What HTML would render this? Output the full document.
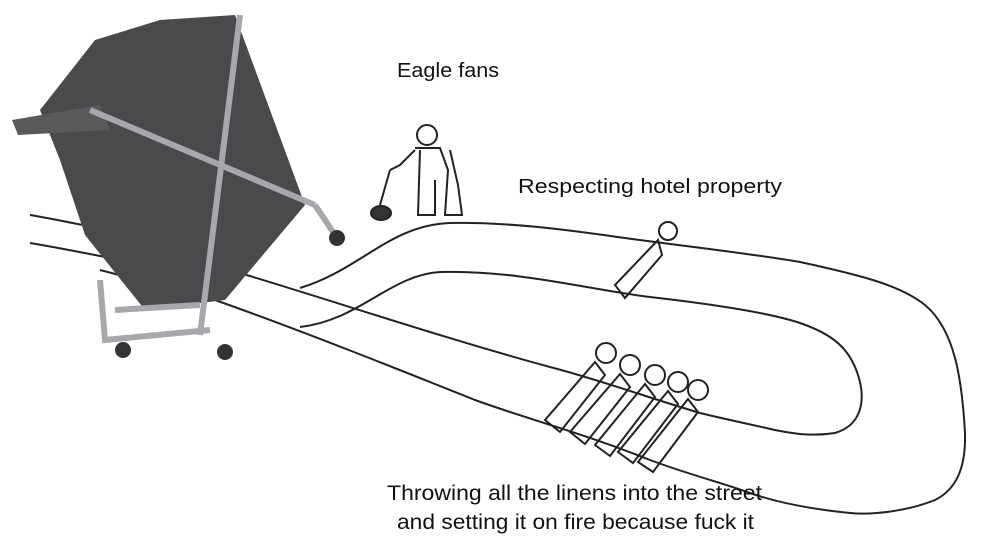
<!DOCTYPE html><html><head><style>body{margin:0;background:#fff}svg{display:block}text{font-family:"Liberation Sans",sans-serif;fill:#111}</style></head><body>
<svg width="1000" height="547" viewBox="0 0 1000 547">
<rect width="1000" height="547" fill="#fff"/>
<g fill="none" stroke="#222" stroke-width="2">
<path d="M300,288 C360,270 390,225 450,223 C520,222 580,232 640,240 C700,248 760,255 800,262 C860,275 900,285 925,305 C955,330 962,380 965,433 C966,470 955,490 935,500 C905,512 870,515 850,513 C800,508 770,500 750,493 C720,482 690,475 650,460 C580,432 530,420 475,400 C400,370 300,330 215,300 L100,270"/>
<path d="M300,327 C360,320 390,275 440,272 C520,270 590,290 650,297 C720,305 770,313 800,323 C835,335 850,350 858,375 C866,400 862,425 835,433 C810,437 790,433 775,430 C740,422 720,418 700,413 C640,395 600,380 550,367 C450,340 330,300 240,273 L120,245"/>
<path d="M30,215 C60,220 80,225 100,228"/><path d="M30,243 C60,248 80,252 110,258"/>
</g>
<!-- cart -->
<polygon points="40,110 95,40 160,20 235,15 305,205 225,300 145,310 85,235 60,160" fill="#4a4a4c"/>
<polygon points="12,120 100,105 110,130 18,135" fill="#5a5a5c"/>
<g stroke="#a8a8ac" stroke-width="6" fill="none">
<line x1="240" y1="15" x2="200" y2="335"/><line x1="90" y1="110" x2="315" y2="205"/>
<path d="M315,205 L335,235"/><path d="M100,280 L105,340 L210,330"/><line x1="115" y1="310" x2="200" y2="305"/>
</g>
<circle cx="337" cy="238" r="8" fill="#333"/><circle cx="123" cy="350" r="8" fill="#333"/><circle cx="225" cy="352" r="8" fill="#333"/>
<!-- standing man -->
<g fill="none" stroke="#222" stroke-width="2">
<circle cx="427" cy="135" r="10"/><path d="M415,148 L440,148 L448,170 L445,215 L462,215 L458,185 L450,150"/>
<path d="M420,150 L418,215 L435,215 L435,180"/><path d="M415,150 L400,165 L390,170"/><line x1="390" y1="170" x2="380" y2="205"/>
<ellipse cx="381" cy="213" rx="10" ry="7" fill="#333"/>
</g>
<!-- lying figures -->
<g fill="none" stroke="#222" stroke-width="2">
<circle cx="668" cy="231" r="9"/><path d="M658,240 L615,285 L625,298 L662,255 Z"/>
<circle cx="606" cy="353" r="10"/><path d="M595,362 L545,420 L560,432 L605,375 Z"/>
<circle cx="630" cy="365" r="10"/><path d="M620,374 L570,432 L585,444 L630,387 Z"/>
<circle cx="655" cy="375" r="10"/><path d="M645,384 L595,445 L610,456 L655,397 Z"/>
<circle cx="678" cy="382" r="10"/><path d="M668,391 L618,452 L633,463 L678,404 Z"/>
<circle cx="698" cy="390" r="10"/><path d="M688,399 L638,462 L653,472 L698,412 Z"/>
</g>
<text x="397" y="77" font-size="20" textLength="102" lengthAdjust="spacingAndGlyphs">Eagle fans</text>
<text x="518" y="193" font-size="20" textLength="264" lengthAdjust="spacingAndGlyphs">Respecting hotel property</text>
<text x="387" y="500" font-size="21" textLength="375" lengthAdjust="spacingAndGlyphs">Throwing all the linens into the street</text>
<text x="397" y="529" font-size="21" textLength="357" lengthAdjust="spacingAndGlyphs">and setting it on fire because fuck it</text>
</svg></body></html>
